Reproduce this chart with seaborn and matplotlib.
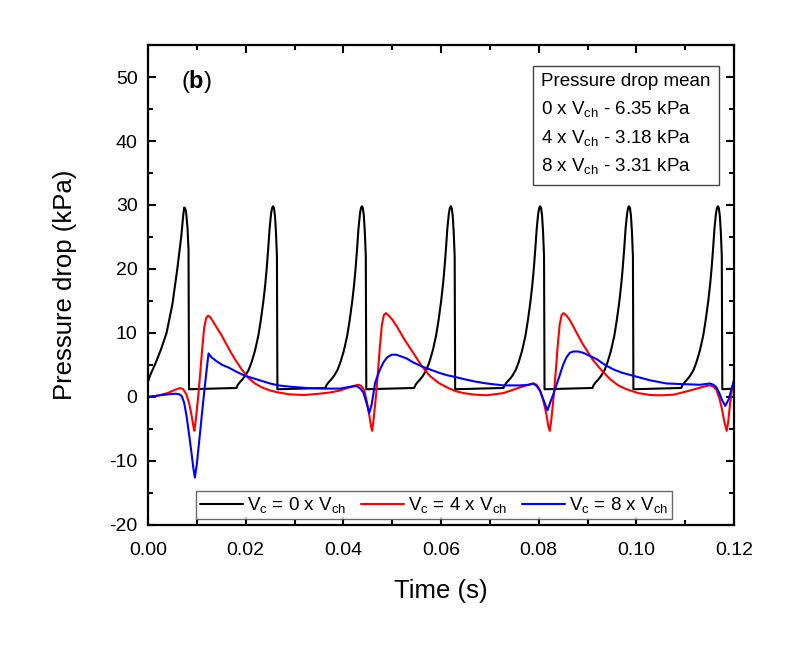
import numpy as np
import pandas as pd
import matplotlib
matplotlib.use("Agg")
import matplotlib.pyplot as plt
import seaborn as sns
from matplotlib.ticker import MultipleLocator
from matplotlib.lines import Line2D

# ---------------- data ----------------
black_t = [
    0.0000, 0.0005, 0.0014, 0.0026, 0.0038, 0.0050, 0.0060, 0.0068, 0.0072, 0.0074, 0.0076, 0.0078, 0.0081, 0.0083, 0.0084,
    0.0181, 0.0184, 0.0188, 0.0194, 0.0199, 0.0206, 0.0212, 0.0219, 0.0226, 0.0231, 0.0236, 0.0240, 0.0243, 0.0246, 0.0249, 0.0252, 0.0254, 0.0256, 0.0258, 0.0260, 0.0262, 0.0264, 0.0265,
    0.0363, 0.0366, 0.0370, 0.0376, 0.0381, 0.0388, 0.0394, 0.0401, 0.0408, 0.0413, 0.0418, 0.0422, 0.0425, 0.0428, 0.0431, 0.0434, 0.0436, 0.0438, 0.0440, 0.0442, 0.0444, 0.0446, 0.0447,
    0.0545, 0.0548, 0.0552, 0.0558, 0.0563, 0.0570, 0.0576, 0.0583, 0.0590, 0.0595, 0.0600, 0.0604, 0.0607, 0.0610, 0.0613, 0.0616, 0.0618, 0.0620, 0.0622, 0.0624, 0.0626, 0.0628, 0.0629,
    0.0728, 0.0731, 0.0735, 0.0741, 0.0746, 0.0753, 0.0759, 0.0766, 0.0773, 0.0778, 0.0783, 0.0787, 0.0790, 0.0793, 0.0796, 0.0799, 0.0801, 0.0803, 0.0805, 0.0807, 0.0809, 0.0811, 0.0812,
    0.0910, 0.0913, 0.0917, 0.0923, 0.0928, 0.0935, 0.0941, 0.0948, 0.0955, 0.0960, 0.0965, 0.0969, 0.0972, 0.0975, 0.0978, 0.0981, 0.0983, 0.0985, 0.0987, 0.0989, 0.0991, 0.0993, 0.0994,
    0.1092, 0.1095, 0.1099, 0.1105, 0.1110, 0.1117, 0.1123, 0.1130, 0.1137, 0.1142, 0.1147, 0.1151, 0.1154, 0.1157, 0.1160, 0.1163, 0.1165, 0.1167, 0.1169, 0.1171, 0.1173, 0.1175, 0.1176,
    0.1200,
]
black_p = [
    2.4, 3.5, 5.0, 7.3, 10.0, 14.5, 20.0, 25.0, 28.3, 29.6, 29.5, 28.9, 26.3, 23.0, 1.2,
    1.4, 1.9, 2.3, 2.8, 3.3, 4.2, 5.4, 7.2, 9.6, 12.0, 14.8, 17.5, 20.0, 23.0, 26.3, 28.6, 29.5, 29.8, 29.5, 28.3, 25.8, 22.0, 1.2,
    1.4, 1.9, 2.3, 2.8, 3.3, 4.2, 5.4, 7.2, 9.6, 12.0, 14.8, 17.5, 20.0, 23.0, 26.3, 28.6, 29.5, 29.8, 29.5, 28.3, 25.8, 22.0, 1.2,
    1.4, 1.9, 2.3, 2.8, 3.3, 4.2, 5.4, 7.2, 9.6, 12.0, 14.8, 17.5, 20.0, 23.0, 26.3, 28.6, 29.5, 29.8, 29.5, 28.3, 25.8, 22.0, 1.2,
    1.4, 1.9, 2.3, 2.8, 3.3, 4.2, 5.4, 7.2, 9.6, 12.0, 14.8, 17.5, 20.0, 23.0, 26.3, 28.6, 29.5, 29.8, 29.5, 28.3, 25.8, 22.0, 1.2,
    1.4, 1.9, 2.3, 2.8, 3.3, 4.2, 5.4, 7.2, 9.6, 12.0, 14.8, 17.5, 20.0, 23.0, 26.3, 28.6, 29.5, 29.8, 29.5, 28.3, 25.8, 22.0, 1.2,
    1.4, 1.9, 2.3, 2.8, 3.3, 4.2, 5.4, 7.2, 9.6, 12.0, 14.8, 17.5, 20.0, 23.0, 26.3, 28.6, 29.5, 29.8, 29.5, 28.3, 25.8, 22.0, 1.2,
    1.3,
]

red_t = [
    0.0000, 0.0020, 0.0040, 0.0055, 0.0066, 0.0072, 0.0078, 0.0084, 0.0089, 0.0093, 0.0095, 0.0098, 0.0103, 0.0107, 0.0111,
    0.0115, 0.0119, 0.0123, 0.0127, 0.0133, 0.0142, 0.0151, 0.0165, 0.0178, 0.0191, 0.0205, 0.0219, 0.0233, 0.0250, 0.0267,
    0.0290, 0.0320, 0.0350, 0.0373, 0.0393, 0.0413, 0.0425, 0.0431, 0.0437, 0.0443, 0.0448, 0.0453, 0.0457, 0.0459, 0.0462,
    0.0467, 0.0471, 0.0475, 0.0479, 0.0483, 0.0487, 0.0492, 0.0500, 0.0509, 0.0525, 0.0543, 0.0560, 0.0577, 0.0595, 0.0612,
    0.0630, 0.0646, 0.0670, 0.0694, 0.0728, 0.0762, 0.0780, 0.0789, 0.0796, 0.0803, 0.0810, 0.0816, 0.0820, 0.0823, 0.0826,
    0.0831, 0.0835, 0.0839, 0.0843, 0.0847, 0.0851, 0.0856, 0.0864, 0.0873, 0.0890, 0.0910, 0.0926, 0.0946, 0.0963, 0.0980,
    0.1004, 0.1028, 0.1052, 0.1076, 0.1100, 0.1124, 0.1142, 0.1151, 0.1158, 0.1164, 0.1170, 0.1175, 0.1180, 0.1185, 0.1188,
    0.1192, 0.1196, 0.1200,
]
red_p = [
    0.0, 0.2, 0.6, 1.1, 1.4, 1.2, 0.5, -0.9, -2.8, -4.6, -5.3, -3.5, 0.2, 3.8, 7.5,
    10.8, 12.3, 12.7, 12.5, 11.8, 10.7, 9.6, 7.6, 5.9, 4.4, 3.0, 2.1, 1.5, 1.0, 0.7,
    0.4, 0.3, 0.5, 0.7, 1.0, 1.5, 1.8, 1.9, 1.7, 1.0, -0.7, -2.8, -4.7, -5.3, -3.5,
    0.3, 4.0, 8.0, 11.3, 12.8, 13.1, 12.8, 12.1, 11.1, 9.0, 6.9, 4.9, 3.3, 2.2, 1.5,
    0.9, 0.6, 0.35, 0.26, 0.6, 1.5, 1.9, 2.1, 1.9, 1.0, -0.7, -2.8, -4.7, -5.3, -3.5,
    0.3, 4.0, 8.0, 11.3, 12.8, 13.1, 12.8, 12.0, 10.7, 8.3, 5.9, 4.4, 2.8, 1.8, 1.2,
    0.6, 0.3, 0.25, 0.35, 0.8, 1.3, 1.7, 1.8, 1.6, 1.1, -0.2, -1.8, -3.8, -5.3, -4.0,
    -1.0, 1.3, 2.6,
]

blue_t = [
    0.0000, 0.0020, 0.0040, 0.0055, 0.0063, 0.0069, 0.0074, 0.0079, 0.0084, 0.0089, 0.0093, 0.0096, 0.0100, 0.0105, 0.0110,
    0.0115, 0.0120, 0.0124, 0.0130, 0.0140, 0.0152, 0.0165, 0.0182, 0.0199, 0.0216, 0.0233, 0.0250, 0.0267, 0.0291, 0.0325,
    0.0359, 0.0393, 0.0415, 0.0427, 0.0435, 0.0441, 0.0447, 0.0453, 0.0458, 0.0465, 0.0473, 0.0482, 0.0490, 0.0499, 0.0508,
    0.0516, 0.0530, 0.0543, 0.0560, 0.0577, 0.0595, 0.0612, 0.0630, 0.0646, 0.0670, 0.0694, 0.0728, 0.0762, 0.0779, 0.0789,
    0.0796, 0.0803, 0.0810, 0.0818, 0.0824, 0.0830, 0.0837, 0.0844, 0.0850, 0.0857, 0.0864, 0.0871, 0.0881, 0.0891, 0.0905,
    0.0919, 0.0936, 0.0953, 0.0970, 0.0994, 0.1028, 0.1062, 0.1096, 0.1130, 0.1151, 0.1158, 0.1164, 0.1170, 0.1175, 0.1182,
    0.1189, 0.1194, 0.1200,
]
blue_p = [
    0.0, 0.2, 0.4, 0.5, 0.45, 0.15, -0.9, -3.0, -5.8, -8.7, -11.2, -12.6, -10.5, -6.8, -3.0,
    0.7, 4.2, 6.8, 6.2, 5.6, 5.0, 4.6, 3.9, 3.3, 2.9, 2.5, 2.1, 1.8, 1.6, 1.4,
    1.3, 1.3, 1.6, 1.7, 1.3, 0.7, -0.8, -2.5, -1.2, 2.2, 3.9, 5.4, 6.2, 6.6, 6.6,
    6.4, 6.0, 5.4, 4.8, 4.3, 3.8, 3.4, 3.1, 2.8, 2.4, 2.1, 1.8, 1.8, 1.9, 2.1,
    1.7, 0.9, -0.5, -2.1, -0.8, 0.4, 2.0, 3.6, 5.0, 6.2, 6.9, 7.1, 7.1, 6.9, 6.4,
    5.9, 5.0, 4.3, 3.8, 3.3, 2.6, 2.1, 2.0, 1.9, 2.1, 1.9, 1.5, 0.6, -0.4, -1.4,
    -0.4, 1.0, 2.6,
]

series_labels = [r"V$_\mathrm{c}$ = 0 x V$_\mathrm{ch}$",
                 r"V$_\mathrm{c}$ = 4 x V$_\mathrm{ch}$",
                 r"V$_\mathrm{c}$ = 8 x V$_\mathrm{ch}$"]
series_colors = ["#000000", "#ff0000", "#0000ff"]
mean_lines = ["Pressure drop mean",
              r"0 x V$_\mathrm{ch}$ - 6.35 kPa",
              r"4 x V$_\mathrm{ch}$ - 3.18 kPa",
              r"8 x V$_\mathrm{ch}$ - 3.31 kPa"]
x_ticks = [0.00, 0.02, 0.04, 0.06, 0.08, 0.10, 0.12]
y_ticks = [-20, -10, 0, 10, 20, 30, 40, 50]

# ---------------- build frame ----------------
frames = []
for t, p, lab in zip([black_t, red_t, blue_t], [black_p, red_p, blue_p], series_labels):
    frames.append(pd.DataFrame({"Time": t, "Pressure": p, "Series": lab}))
df = pd.concat(frames, ignore_index=True)

# ---------------- style ----------------
sns.set_theme(style="ticks")
plt.rcParams["font.family"] = ["Liberation Sans", "DejaVu Sans"]
plt.rcParams["mathtext.fontset"] = "custom"
plt.rcParams["mathtext.rm"] = "Liberation Sans"
plt.rcParams["mathtext.it"] = "Liberation Sans:italic"
plt.rcParams["mathtext.bf"] = "Liberation Sans:bold"
plt.rcParams["axes.unicode_minus"] = False
for k in ["text.color", "axes.labelcolor", "xtick.color", "ytick.color", "axes.edgecolor"]:
    plt.rcParams[k] = "black"

fig = plt.figure(figsize=(8.0, 6.48), dpi=100)
ax = fig.add_axes([0.185, 0.19, 0.7325, 0.7405])

sns.lineplot(data=df, x="Time", y="Pressure", hue="Series", palette=series_colors,
             hue_order=series_labels, estimator=None, sort=False, units="Series",
             linewidth=1.5, ax=ax, legend=False)

ax.set_xlim(0, 0.12)
ax.set_ylim(-20, 55)
ax.set_xticks(x_ticks)
ax.set_xticklabels([f"{v:.2f}" for v in x_ticks])
ax.set_yticks(y_ticks)
ax.xaxis.set_minor_locator(MultipleLocator(0.01))
ax.yaxis.set_minor_locator(MultipleLocator(5))
ax.tick_params(which="both", direction="in", top=True, right=True,
               width=1.5, labelsize=14, colors="black")
ax.tick_params(axis="x", which="both", pad=12)
ax.tick_params(axis="y", which="both", pad=7.5)
ax.tick_params(which="major", length=6)
ax.tick_params(which="minor", length=3.5)
for s in ax.spines.values():
    s.set_linewidth(1.6)
    s.set_color("black")
ax.set_xlabel("Time (s)", fontsize=18.5, labelpad=15)
ax.set_ylabel("Pressure drop (kPa)", fontsize=18.5, labelpad=23)

# panel label
ax.text(0.057, 0.925, r"($\mathbf{b}$)", transform=ax.transAxes, fontsize=17,
        ha="left", va="center")

# mean text box
ax.text(0.6706, 0.941, "\n".join(mean_lines), transform=ax.transAxes, fontsize=13.5,
        ha="left", va="top", linespacing=1.58,
        bbox=dict(boxstyle="square,pad=0.45", facecolor="white",
                  edgecolor="#444444", linewidth=1.0))

# legend
handles = [Line2D([0], [0], color=c, lw=1.5) for c in series_colors]
leg = ax.legend(handles, series_labels, loc="lower center", bbox_to_anchor=(0.488, 0.0125),
                ncol=3, fontsize=13.5, frameon=True, fancybox=False, handlelength=2.3,
                handletextpad=0.2, columnspacing=0.8, borderpad=0.2,
                borderaxespad=0.0)
leg.get_frame().set_edgecolor("#444444")
leg.get_frame().set_linewidth(1.0)

fig.savefig("out.png", dpi=100)
